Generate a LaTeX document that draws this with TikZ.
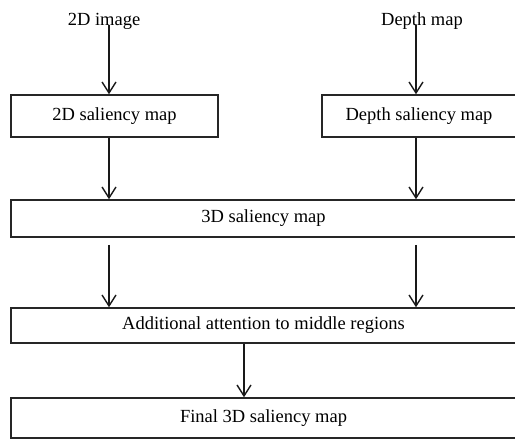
\documentclass[tikz,border=0pt]{standalone}
\usepackage{fontspec}
\setmainfont{Liberation Serif}
\usetikzlibrary{arrows.meta}

\tikzset{
    box/.style={draw=black!85, line width=1.5pt, rectangle, inner sep=0pt,
        font=\fontsize{18.5}{20}\selectfont},
    label/.style={inner sep=0pt, font=\fontsize{18.5}{20}\selectfont},
    arr/.style={draw=black!90, line width=1.4pt,
        -{Straight Barb[length=11pt,width=14pt,line width=1.4pt]}}
}

\begin{document}
\begin{tikzpicture}[x=1pt, y=-1pt]
        \useasboundingbox (0,0) rectangle (515,439);
        \clip (0,0) rectangle (515,439);
        % inputs
        \node[label, anchor=base] (img) at (104, 25) {2D image};
        \node[label, anchor=base] (dep) at (422, 25) {Depth map};
        % boxes
        \node[box, minimum width=207pt, minimum height=42pt] (sal2d) at (114.5, 116) {2D saliency map};
        \node[box, minimum width=194pt, minimum height=42pt] (saldep) at (419, 116) {Depth saliency map};
        \node[box, minimum width=505pt, minimum height=37pt] (sal3d) at (263.5, 218.5) {3D saliency map};
        \node[box, minimum width=505pt, minimum height=35pt] (attn) at (263.5, 325.5) {Additional attention to middle regions};
        \node[box, minimum width=505pt, minimum height=40pt] (final) at (263.5, 418) {Final 3D saliency map};
        % arrow columns
        \coordinate (lc) at (109, 0);
        \coordinate (rc) at (416, 0);
        \coordinate (mc) at (244, 0);
        \draw[arr] (img.base -| lc) -- (sal2d.north -| lc);
        \draw[arr] (dep.base -| rc) -- (saldep.north -| rc);
        \draw[arr] (sal2d.south -| lc) -- (sal3d.north -| lc);
        \draw[arr] (saldep.south -| rc) -- (sal3d.north -| rc);
        \draw[arr, shorten <=7pt] (sal3d.south -| lc) -- (attn.north -| lc);
        \draw[arr, shorten <=7pt] (sal3d.south -| rc) -- (attn.north -| rc);
        \draw[arr] (attn.south -| mc) -- (final.north -| mc);
    \end{tikzpicture}
\end{document}
